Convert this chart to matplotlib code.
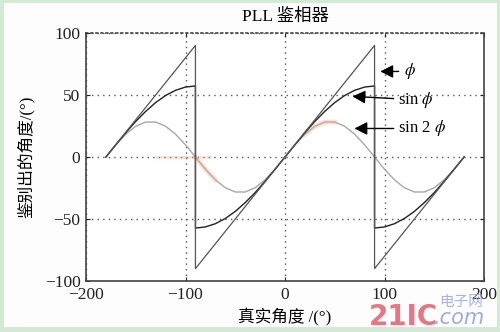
import matplotlib
matplotlib.use("Agg")
import matplotlib.pyplot as plt
from matplotlib.patches import Rectangle

plt.rcParams['font.family'] = ['Liberation Serif', 'Noto Sans CJK SC', 'DejaVu Sans']
plt.rcParams['mathtext.fontset'] = 'stix'

# true phase error (deg), with repeated points where the discriminator wraps
angle = [-180, -170, -160, -150, -140, -130, -120, -110, -100, -90,
         -90, -80, -70, -60, -50, -40, -30, -20, -10, 0,
         10, 20, 30, 40, 50, 60, 70, 80, 90,
         90, 100, 110, 120, 130, 140, 150, 160, 170, 180]

# discriminator outputs (deg)
out_phi = [0, 10, 20, 30, 40, 50, 60, 70, 80, 90,
           -90, -80, -70, -60, -50, -40, -30, -20, -10, 0,
           10, 20, 30, 40, 50, 60, 70, 80, 90,
           -90, -80, -70, -60, -50, -40, -30, -20, -10, 0]
out_sin = [0, 9.9, 19.6, 28.7, 36.8, 43.9, 49.6, 53.8, 56.4, 57.3,
           -57.3, -56.4, -53.8, -49.6, -43.9, -36.8, -28.7, -19.6, -9.9, 0,
           9.9, 19.6, 28.7, 36.8, 43.9, 49.6, 53.8, 56.4, 57.3,
           -57.3, -56.4, -53.8, -49.6, -43.9, -36.8, -28.7, -19.6, -9.9, 0]
out_sin2 = [0, 9.8, 18.4, 24.8, 28.2, 28.2, 24.8, 18.4, 9.8, 0,
            0, -9.8, -18.4, -24.8, -28.2, -28.2, -24.8, -18.4, -9.8, 0,
            9.8, 18.4, 24.8, 28.2, 28.2, 24.8, 18.4, 9.8, 0,
            0, -9.8, -18.4, -24.8, -28.2, -28.2, -24.8, -18.4, -9.8, 0]

xticks = [-200, -100, 0, 100, 200]
yticks = [-100, -50, 0, 50, 100]

fig = plt.figure(figsize=(5, 3.32), dpi=100, facecolor='#d4ead4')
fig.patches.append(Rectangle((0.007, 0.016), 0.987, 0.974, transform=fig.transFigure,
                             facecolor='#fdfdfd', edgecolor='none', zorder=-1))
ax = fig.add_axes([0.172, 0.1536, 0.796, 0.747])
ax.set_facecolor('white')

ax.plot(angle, out_sin2, color='#a8a8a8', lw=1.0)
# faint orange smear on the scanned curve
ax.plot(angle[21:25], out_sin2[21:25], color='#f0a888', lw=3.5, alpha=0.35)
ax.plot(angle[9:13], out_sin2[9:13], color='#f0a888', lw=3.5, alpha=0.35)
ax.plot([-130, -75], [0, 0], color='#f0b090', lw=2, alpha=0.35)
ax.plot(angle, out_sin, color='#222222', lw=1.0)
ax.plot(angle, out_phi, color='#555555', lw=0.9)

ax.set_xlim(-200, 200)
ax.set_ylim(-100, 100)
ax.set_xticks(xticks)
ax.set_yticks(yticks)
ax.grid(True, color='#555555', linestyle=(0, (1, 3)), linewidth=1.0)
ax.tick_params(direction='in', top=True, right=True, length=3, labelsize=12.5,
               colors='#222222', pad=4)
for s in ax.spines.values():
    s.set_color('#444444')
    s.set_linewidth(1.2)
ax.spines['top'].set_linestyle((0, (1, 2)))

arrow = dict(arrowstyle='-|>,head_length=0.55,head_width=0.28', color='black',
             lw=1.0, mutation_scale=14)
ax.annotate('', xy=(93, 69), xytext=(117, 69), arrowprops=arrow)
ax.annotate('', xy=(65, 49), xytext=(112, 47), arrowprops=arrow)
ax.annotate('', xy=(67, 23), xytext=(112, 23), arrowprops=arrow)
ax.text(120, 69, r'$\phi$', fontsize=12, va='center', ha='left')
ax.text(114, 46, r'sin $\phi$', fontsize=12, va='center', ha='left')
ax.text(114, 23, r'sin 2 $\phi$', fontsize=12, va='center', ha='left')

ax.set_title('PLL 鉴相器', fontsize=12.5, pad=9)
ax.set_xlabel('真实角度 /(°)', fontsize=12, labelpad=4)
ax.set_ylabel('鉴别出的角度/(°)', fontsize=12, labelpad=7)

# site watermark
fig.text(0.738, 0.022, '21IC', color='#e0606e', fontsize=20, fontweight='bold',
         family='DejaVu Sans', alpha=0.85)
fig.text(0.868, 0.024, '.com', color='#8f9fd6', fontsize=15, style='italic',
         family='DejaVu Sans', alpha=0.85)
fig.text(0.878, 0.078, '电子网', color='#9aa6d8', fontsize=10.5,
         family='Noto Sans CJK SC', alpha=0.85)

fig.savefig('out.png', dpi=100, facecolor=fig.get_facecolor())
